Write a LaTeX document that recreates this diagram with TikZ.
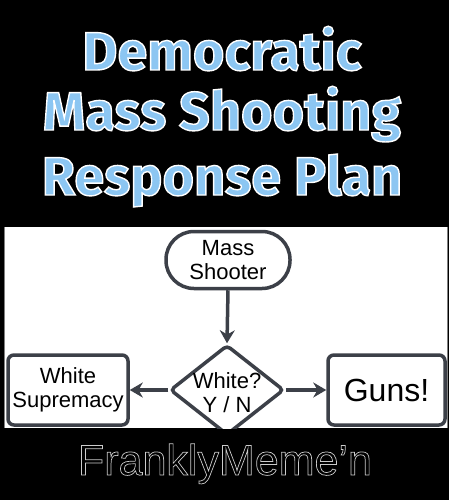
\documentclass[tikz,border=0pt]{standalone}
\usepackage{fontspec}
\setmainfont{Liberation Sans}
\newfontfamily\titlefont{Fira Sans}
\usetikzlibrary{shapes.geometric}
\usetikzlibrary{arrows.meta}

\definecolor{skyblue}{HTML}{8CC6F2}
\definecolor{chartgray}{HTML}{3C4048}

\tikzset{
  titleline/.style={anchor=base, inner sep=0pt, font=\titlefont\bfseries\fontsize{54}{60}\selectfont},
  chartbox/.style={draw=chartgray, line width=3.5pt, fill=white, rounded corners=6pt, align=center,
    font=\fontsize{22}{24}\selectfont},
  flow/.style={draw=chartgray, line width=3.5pt, -{Stealth[length=13pt, width=15pt]}}
}

% filled text with a stroked edge, and hollow text
\newcommand{\bluetext}[1]{\textcolor{skyblue}{\special{pdf:literal direct 1 1 1 RG 1.4 w 2 Tr}#1\special{pdf:literal direct 0 Tr}}}
\newcommand{\hollowtext}[1]{\special{pdf:literal direct 0.8 0.8 0.8 RG 0.7 w 1 Tr}#1\special{pdf:literal direct 0 Tr}}

\begin{document}
\begin{tikzpicture}[x=1pt, y=-1pt]
    % background
    \fill[black] (0, 0) rectangle (449, 500);
    \useasboundingbox (0, 0) rectangle (449, 500);

    % Title
    \node[titleline] (ttlA) at (222, 70) {\bluetext{Democratic}};
    \node[titleline] (ttlB) at (222, 130) {\bluetext{Mass Shooting}};
    \node[titleline] (ttlC) at (222, 195) {\bluetext{Response Plan}};

    % Chart panel
    \fill[white] (4, 227) rectangle (448, 428);
    \draw[gray, line width=0.8pt] (4.4, 227) -- (4.4, 428);
    \draw[gray, line width=0.8pt] (447.6, 227) -- (447.6, 428);
    \begin{scope}
        \clip (4, 227) rectangle (448, 428);
        \node[chartbox, rounded corners=28pt, minimum width=124pt, minimum height=57pt] (shooter) at (228, 260) {Mass\\Shooter};
        \node[chartbox, diamond, rounded corners=4pt, minimum width=114pt, minimum height=90pt, inner sep=0pt] (white) at (227, 390) {};
        \node[align=center, font=\fontsize{22}{24}\selectfont] (whitetxt) at (227, 393) {White?\\Y / N};
        \node[chartbox, minimum width=120pt, minimum height=70pt] (supremacy) at (68, 390) {White\\Supremacy};
        \node[chartbox, minimum width=117pt, minimum height=70pt, font=\fontsize{32}{36}\selectfont] (guns) at (386.5, 390) {Guns!};
        % connectors
        \draw[flow] (shooter.south) -- (white.north);
        \draw[flow] (white.west) -- (supremacy.east);
        \draw[flow] (white.east) -- (guns.west);
    \end{scope}

    % Footer
    \node[anchor=base, inner sep=0pt, font=\fontsize{43}{48}\selectfont] (credit) at (225, 475)
        {\hollowtext{FranklyMeme’n}};
\end{tikzpicture}
\end{document}
